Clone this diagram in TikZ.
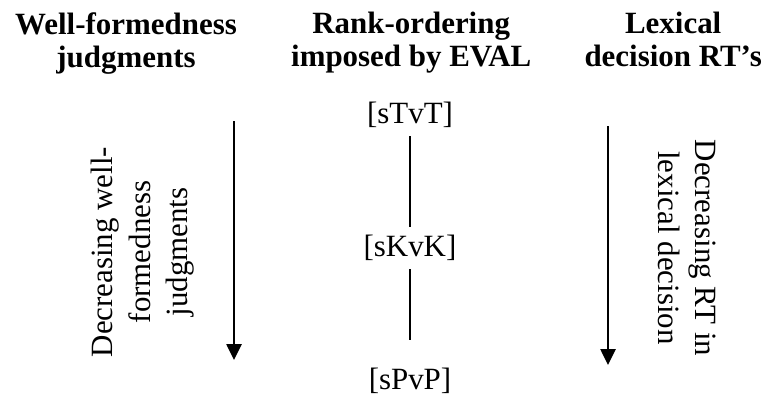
\documentclass[tikz,border=0pt]{standalone}
\usepackage{fontspec}
\setmainfont{Liberation Serif}
\usepackage{tikz}
\usetikzlibrary{positioning, arrows.meta}

\begin{document}
\begin{tikzpicture}[
    % GLOBAL CFG
    font=\fontsize{22}{26.7}\selectfont,
    >={Triangle[length=0.4cm, width=0.38cm]},
    % Styles
    header/.style={% For the column titles
        font=\fontsize{22}{23.5}\selectfont\bfseries,
        align=center,
        anchor=north,
        inner sep=0pt,
        },
    form/.style={% For the ranked forms
        inner sep=0.2cm,
        },
    sidelabel/.style={% For the rotated side labels
        align=center,
        inner sep=0pt,
        },
    ArrowD/.style={% Arrows pointing down
        ->,
        line width=1.4pt,
        },
    rank/.style={% Lines between forms
        line width=1pt,
        },
    ]

    % Fix the page size
    \useasboundingbox (0,0) rectangle (19.175,-9.925);

    % Draw the headers named head#
    \node [header] (head1) at (3.15,-0.3) {Well-formedness\\judgments};
    \node [header] (head2) at (10.28,-0.3) {Rank-ordering\\imposed by EVAL};
    \node [header] (head3) at (16.83,-0.3) {Lexical\\decision RT's};

    % Draw the forms
    \node [form] (tvt) at (10.25,-2.875) {[sTvT]};
    \node [form] (kvk) at (10.25,-6.2) {[sKvK]};
    \node [form] (pvp) at (10.25,-9.525) {[sPvP]};

    % Draw the side labels
    \node [sidelabel, rotate=90] (wf) at (3.575,-6.3) {Decreasing well-\\formedness\\judgments};
    \node [sidelabel, rotate=-90] (rt) at (17.18,-6.2) {Decreasing RT in\\lexical decision};

    % Arrow ends
    \coordinate (wftop) at (5.85,-3.025);
    \coordinate (wfbot) at (5.85,-9.0);
    \coordinate (rttop) at (15.2,-3.15);
    \coordinate (rtbot) at (15.2,-9.125);

% Connect all.
    \draw [rank] (tvt) -- (kvk);
    \draw [rank, shorten >=0.5cm] (kvk) -- (pvp);

    \draw [ArrowD] (wftop) -- (wfbot);
    \draw [ArrowD] (rttop) -- (rtbot);

\end{tikzpicture}
\end{document}
